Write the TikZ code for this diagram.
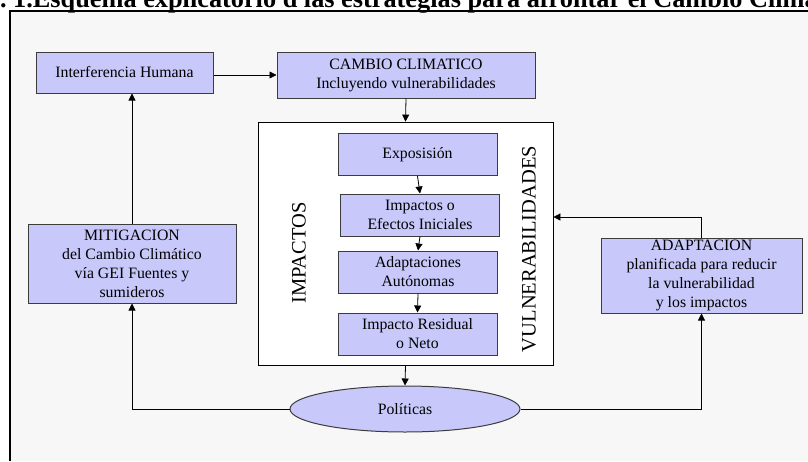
\documentclass[tikz,border=0pt]{standalone}
\usepackage{fontspec}
\setmainfont{Liberation Serif}
\usepackage{tikz}
\usetikzlibrary{positioning,shapes.geometric,arrows.meta,calc}
\definecolor{lavanda}{RGB}{200, 200, 250}
\definecolor{fondo}{RGB}{247, 247, 247}
\definecolor{borde}{RGB}{60, 60, 60}

\begin{document}
\begin{tikzpicture}[
    x=1pt, y=-1pt,
    font=\fontsize{15.8}{19}\selectfont,
    caja/.style={draw=borde, fill=lavanda, line width=1pt, align=center, inner sep=0pt},
    etapa/.style={caja, minimum width=159pt, minimum height=42pt},
    flecha/.style={-{Triangle[length=7pt, width=7pt]}, line width=0.8pt},
    vertical/.style={rotate=90, inner sep=0pt, font=\fontsize{20.5}{21}\selectfont},
]

\useasboundingbox (0,0) rectangle (808,461);
\clip (0,0) rectangle (808,461);

% ===== Marco y titulo =====
\fill[fondo] (10,11) rectangle (808,461);
\node[font=\fontsize{26.3}{27}\selectfont\bfseries, anchor=base west, inner sep=0pt] (titulo) at (13,7)
    {\llap{Fig.\ }1.Esquema explicatorio d las estrategias para afrontar el Cambio Climático};
\draw[line width=1.5pt] (10,461) -- (10,11) -- (808,11);

% ===== Fila superior =====
\node[caja, minimum width=177pt, minimum height=41pt] (interf) at (124.5,72.5) {Interferencia Humana};
\node[caja, minimum width=258pt, minimum height=46pt] (cambio) at (406,75)
    {CAMBIO CLIMATICO\\Incluyendo vulnerabilidades};

% ===== Bloque central =====
\node[draw, fill=white, line width=0.8pt, minimum width=295pt, minimum height=243pt] (marco) at (405.5,243.5) {};
\node[etapa] (expo) at (417.5,154.5) {Exposisión};
\node[etapa] (efectos) at (420,215) {Impactos o\\Efectos Iniciales};
\node[etapa] (autonomas) at (418,272) {Adaptaciones\\Autónomas};
\node[etapa] (residual) at (417.5,334) {Impacto Residual\\o Neto};
\node[vertical] (impactos) at (299,253) {IMPACTOS};
\node[vertical] (vulner) at (529,249) {VULNERABILIDADES};

% ===== Respuestas =====
\node[caja, minimum width=208pt, minimum height=79pt] (mitig) at (132,263.5)
    {MITIGACION\\del Cambio Climático\\vía GEI Fuentes y\\sumideros};
\node[caja, minimum width=201pt, minimum height=75pt] (adapt) at (701.5,275.5)
    {ADAPTACION\\planificada para reducir\\la vulnerabilidad\\y los impactos};
\node[ellipse, draw=borde, fill=lavanda, line width=1pt, minimum width=230pt, minimum height=46pt] (pol) at (405,409) {Políticas};

% ===== Conectores =====
\draw[flecha] (interf.east |- cambio.west) -- (cambio.west);
\draw[flecha] (cambio.south) -- (marco.north);
\draw[flecha] (expo.south) -- (efectos.north);
\draw[flecha] (efectos.south) -- (autonomas.north);
\draw[flecha] (autonomas.south) -- (residual.north);
\draw[flecha] (marco.south) -- (pol.north);
\draw[flecha] (mitig.north) -- (mitig.north |- interf.south);
\draw[flecha] (pol.west) -| (mitig.south);
\draw[flecha] (pol.east) -| (adapt.south);
\draw[flecha] (adapt.north) |- ([yshift=26.5pt]marco.east);

\end{tikzpicture}
\end{document}
